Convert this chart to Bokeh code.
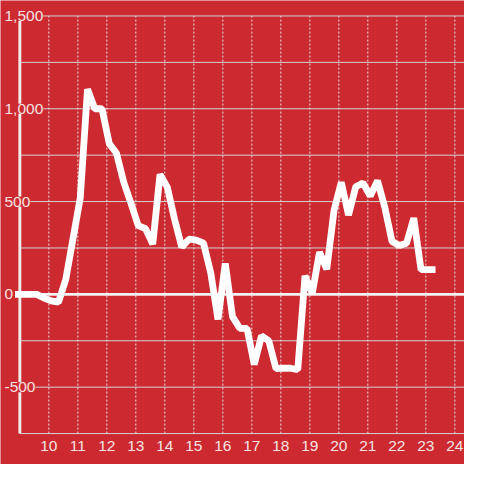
from bokeh.plotting import figure
from bokeh.models import Range1d, ColumnDataSource, LabelSet
from bokeh.core.properties import value
from bokeh.embed import file_html
from bokeh.resources import INLINE

# ---- data ----
times = ["08:50", "09:05", "09:20", "09:35", "09:50", "10:05", "10:20", "10:35", "10:50",
         "11:05", "11:20", "11:35", "11:50", "12:05", "12:20", "12:35", "12:50", "13:05",
         "13:20", "13:35", "13:50", "14:05", "14:20", "14:35", "14:50", "15:05", "15:20",
         "15:35", "15:50", "16:05", "16:20", "16:35", "16:50", "17:05", "17:20", "17:35",
         "17:50", "18:05", "18:20", "18:35", "18:50", "19:05", "19:20", "19:35", "19:50",
         "20:05", "20:20", "20:35", "20:50", "21:05", "21:20", "21:35", "21:50", "22:05",
         "22:20", "22:35", "22:50", "23:05", "23:20"]
values = [0, 0, 0, 0, -20, -35, -42, 80, 300,
          520, 1105, 1000, 1000, 812, 760, 604, 490, 370,
          354, 271, 646, 578, 406, 255, 297, 292, 276,
          115, -135, 167, -120, -183, -183, -378, -224, -250,
          -400, -398, -398, -406, 100, 5, 228, 135, 452,
          604, 427, 580, 600, 530, 612, 470, 285, 263,
          275, 411, 133, 133, 133]

x_ticks = [10, 11, 12, 13, 14, 15, 16, 17, 18, 19, 20, 21, 22, 23, 24]
x_tick_labels = ["10", "11", "12", "13", "14", "15", "16", "17", "18", "19", "20", "21", "22", "23", "24"]
y_grid = [1500, 1250, 1000, 750, 500, 250, 0, -250, -500, -750]
y_ticks = [1500, 1000, 500, 0, -500]
y_tick_labels = ["1,500", "1,000", "500", "0", "-500"]

# ---- layout / style ----
RED = "#cc2a30"
TXT = "#f6e2e2"
FONT = value("Liberation Sans")
FONT_SIZE = "15.5px"
X_START, X_END = 8.333, 24.333
Y_START, Y_END = -916.7, 1583.3
AXIS_X = 9.0
Y_LABEL_X = 8.47
X_LABEL_Y = -818

hours = [int(t[:2]) + int(t[3:]) / 60 for t in times]

p = figure(width=464, height=464, output_backend="svg", toolbar_location=None,
           x_range=Range1d(X_START, X_END), y_range=Range1d(Y_START, Y_END),
           x_axis_type=None, y_axis_type=None, min_border=0,
           background_fill_color=RED, border_fill_color=RED, outline_line_color=None)

# horizontal gridlines
p.segment(x0=[AXIS_X] * len(y_grid), x1=[X_END] * len(y_grid), y0=y_grid, y1=y_grid,
          line_color="#d2d2d2", line_width=1)
# vertical dotted gridlines
p.segment(x0=x_ticks, x1=x_ticks, y0=[min(y_grid)] * len(x_ticks), y1=[max(y_grid)] * len(x_ticks),
          line_color="#e2e2e2", line_width=1, line_dash="2 2")
# zero line
p.segment(x0=[AXIS_X], x1=[X_END], y0=[0], y1=[0], line_color="#f2f2f2", line_width=2.9)
# y axis line
p.segment(x0=[AXIS_X], x1=[AXIS_X], y0=[min(y_grid)], y1=[max(y_grid)], line_color="#eeeeee", line_width=2.9)

# data line
p.line(hours, values, line_color="white", line_width=6.8)

# y labels (with background covering axis)
ysrc = ColumnDataSource(dict(y=y_ticks, text=y_tick_labels))
p.add_layout(LabelSet(x=Y_LABEL_X, y="y", text="text", source=ysrc,
                      text_align="left", text_baseline="middle",
                      text_font_size=FONT_SIZE, text_font=FONT, text_color=TXT,
                      background_fill_color=RED))

# x labels
xsrc = ColumnDataSource(dict(x=x_ticks, text=x_tick_labels))
p.add_layout(LabelSet(x="x", y=X_LABEL_Y, text="text", source=xsrc,
                      text_align="center", text_baseline="middle",
                      text_font_size=FONT_SIZE, text_font=FONT, text_color=TXT))

open("out.html", "w").write(file_html(p, INLINE))
